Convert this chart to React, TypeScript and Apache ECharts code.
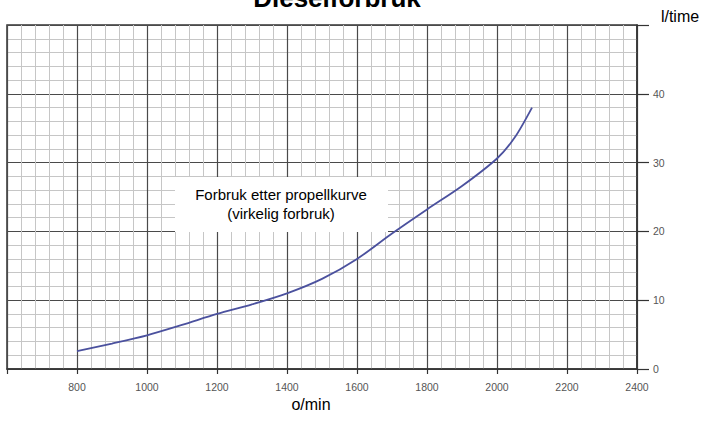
import React, { useEffect, useRef } from "react";
import * as echarts from "echarts";

const rpm = [800, 900, 1000, 1100, 1200, 1300, 1400, 1500, 1600, 1700, 1800, 1900, 2000, 2050, 2100];
const consumption = [2.6, 3.7, 4.9, 6.4, 8.0, 9.4, 11.0, 13.1, 16.0, 19.7, 23.2, 26.6, 30.6, 33.6, 38.0];
const titleText = "Dieselforbruk";
const xName = "o/min";
const yName = "l/time";
const noteLines = ["Forbruk etter propellkurve", "(virkelig forbruk)"];

const FONT = "'Liberation Sans', Arial, Helvetica, sans-serif";

export default function App() {
  const ref = useRef<HTMLDivElement>(null);
  useEffect(() => {
    if (!ref.current) return;
    const chart = echarts.init(ref.current, undefined, { renderer: "svg" });
    chart.setOption({
      animation: false,
      backgroundColor: "#ffffff",
      grid: {
        left: 7,
        right: 65,
        top: 25,
        bottom: 56,
        show: true,
        borderColor: "#333",
        borderWidth: 1.5,
        backgroundColor: "transparent",
      },
      xAxis: {
        type: "value",
        min: 600,
        max: 2400,
        interval: 200,
        axisLine: { show: true, lineStyle: { color: "#333", width: 1.5 } },
        axisTick: { show: true, length: 5, lineStyle: { color: "#333", width: 1.2 } },
        minorTick: { show: false, splitNumber: 5 },
        axisLabel: {
          formatter: (v: number) => (v === 600 ? "" : String(v)),
          color: "#555",
          fontSize: 10.5,
          fontFamily: FONT,
          margin: 12,
        },
        splitLine: { show: true, lineStyle: { color: "#4a4a4a", width: 1.2 } },
        minorSplitLine: { show: true, lineStyle: { color: "#c6c6c6", width: 1 } },
      },
      yAxis: {
        type: "value",
        position: "right",
        min: 0,
        max: 50,
        interval: 10,
        axisLine: { show: true, lineStyle: { color: "#333", width: 1.5 } },
        axisTick: { show: true, length: 12, lineStyle: { color: "#333", width: 1.2 } },
        minorTick: { show: false, splitNumber: 5 },
        axisLabel: {
          formatter: (v: number) => (v === 50 ? "" : String(v)),
          color: "#555",
          fontSize: 10.5,
          fontFamily: FONT,
          margin: 16,
          padding: [0, 0, 6, 0],
        },
        splitLine: { show: true, lineStyle: { color: "#4a4a4a", width: 1.2 } },
        minorSplitLine: { show: true, lineStyle: { color: "#c6c6c6", width: 1 } },
      },
      series: [
        {
          type: "line",
          data: rpm.map((x, i) => [x, consumption[i]]),
          smooth: 0.3,
          showSymbol: false,
          lineStyle: { color: "#4b519e", width: 1.8 },
          itemStyle: { color: "#4b519e" },
          z: 5,
        },
      ],
      graphic: [
        {
          type: "text",
          x: 337,
          y: -2,
          z: 20,
          style: {
            text: titleText,
            font: `bold 26px ${FONT}`,
            fill: "#000",
            align: "center",
            verticalAlign: "middle",
          },
        },
        {
          type: "text",
          x: 680,
          y: 16,
          z: 20,
          style: {
            text: yName,
            font: `16px ${FONT}`,
            fill: "#000",
            align: "center",
            verticalAlign: "middle",
          },
        },
        {
          type: "text",
          x: 311,
          y: 404,
          z: 20,
          style: {
            text: xName,
            font: `16px ${FONT}`,
            fill: "#000",
            align: "center",
            verticalAlign: "middle",
          },
        },
        {
          type: "rect",
          z: 10,
          shape: { x: 175, y: 177, width: 213, height: 55 },
          style: { fill: "#ffffff" },
        },
        {
          type: "text",
          x: 281,
          y: 194,
          z: 11,
          style: {
            text: noteLines[0],
            font: `15px ${FONT}`,
            fill: "#000",
            align: "center",
            verticalAlign: "middle",
          },
        },
        {
          type: "text",
          x: 281,
          y: 213,
          z: 11,
          style: {
            text: noteLines[1],
            font: `15px ${FONT}`,
            fill: "#000",
            align: "center",
            verticalAlign: "middle",
          },
        },
      ],
    });
    return () => chart.dispose();
  }, []);
  return (
    <div
      ref={ref}
      style={{ position: "fixed", left: 0, top: 0, width: 702, height: 425 }}
    />
  );
}
